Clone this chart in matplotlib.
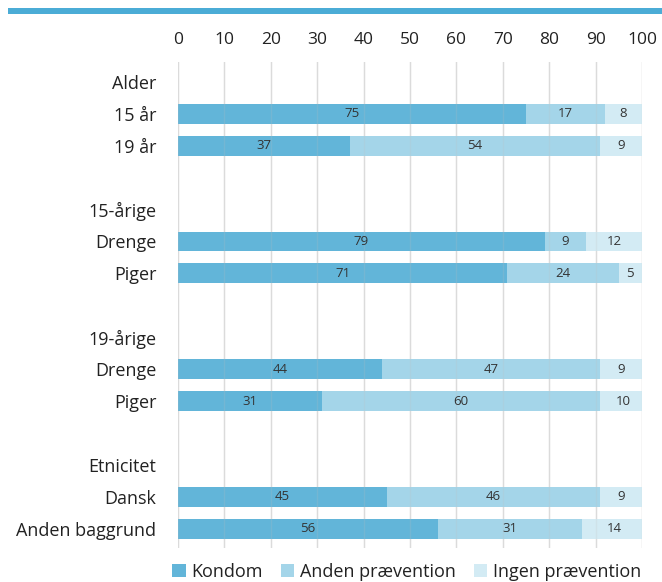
import matplotlib
matplotlib.use("Agg")
import matplotlib.pyplot as plt
from matplotlib.patches import Rectangle

plt.rcParams['font.family'] = ['Open Sans', 'DejaVu Sans']

row_labels = ["Alder", "15 år", "19 år", "", "15-årige", "Drenge", "Piger", "",
              "19-årige", "Drenge", "Piger", "", "Etnicitet", "Dansk", "Anden baggrund"]
bar_rows = [1, 2, 5, 6, 9, 10, 13, 14]
kondom = [75, 37, 79, 71, 44, 31, 45, 56]
anden = [17, 54, 9, 24, 47, 60, 46, 31]
ingen = [8, 9, 12, 5, 9, 10, 9, 14]
series_names = ["Kondom", "Anden prævention", "Ingen prævention"]
colors = ["#62B5D9", "#A4D5E9", "#D3EBF4"]
ticks = list(range(0, 101, 10))

fig = plt.figure(figsize=(6.62, 5.82), dpi=100)
ax = fig.add_axes([178/662, 1-548/582, (642-178)/662, (548-62)/582])

series = [kondom, anden, ingen]
lefts = [0]*len(bar_rows)
handles = []
for vals, col, name in zip(series, colors, series_names):
    bars = ax.barh(bar_rows, vals, left=lefts, height=0.62, color=col, label=name, zorder=2)
    handles.append(bars)
    for r, v, l in zip(bar_rows, vals, lefts):
        ax.text(l + v/2, r, str(v), ha='center', va='center', fontsize=9.5, color='#333333', zorder=4)
    lefts = [a + b for a, b in zip(lefts, vals)]

for t in ticks:
    ax.axvline(t, color='#E2E2E2', lw=1, zorder=1)
    ax.axvline(t, color='#BFBFBF', lw=1, alpha=0.2, zorder=3)

ax.set_xlim(0, 100)
ax.set_ylim(14.6, -0.62)
ax.set_yticks(range(len(row_labels)))
ax.set_yticklabels(row_labels, fontsize=13, color='#222222')
ax.set_xticks(ticks)
ax.xaxis.tick_top()
ax.tick_params(axis='x', length=0, pad=10, labelsize=12.5, colors='#222222')
ax.tick_params(axis='y', length=0, pad=15.5)
for s in ax.spines.values():
    s.set_visible(False)

fig.add_artist(Rectangle((8/662, 1-14/582), 1, 6/582, transform=fig.transFigure,
                         color='#4BACD6', lw=0))

fig.legend(handles=handles, labels=series_names, loc='center', bbox_to_anchor=(0.614, 0.017),
           ncol=3, frameon=False, fontsize=13, handlelength=0.75, handleheight=0.75,
           handletextpad=0.3, columnspacing=1.0, labelcolor='#222222')

fig.savefig("out.png", dpi=100)
